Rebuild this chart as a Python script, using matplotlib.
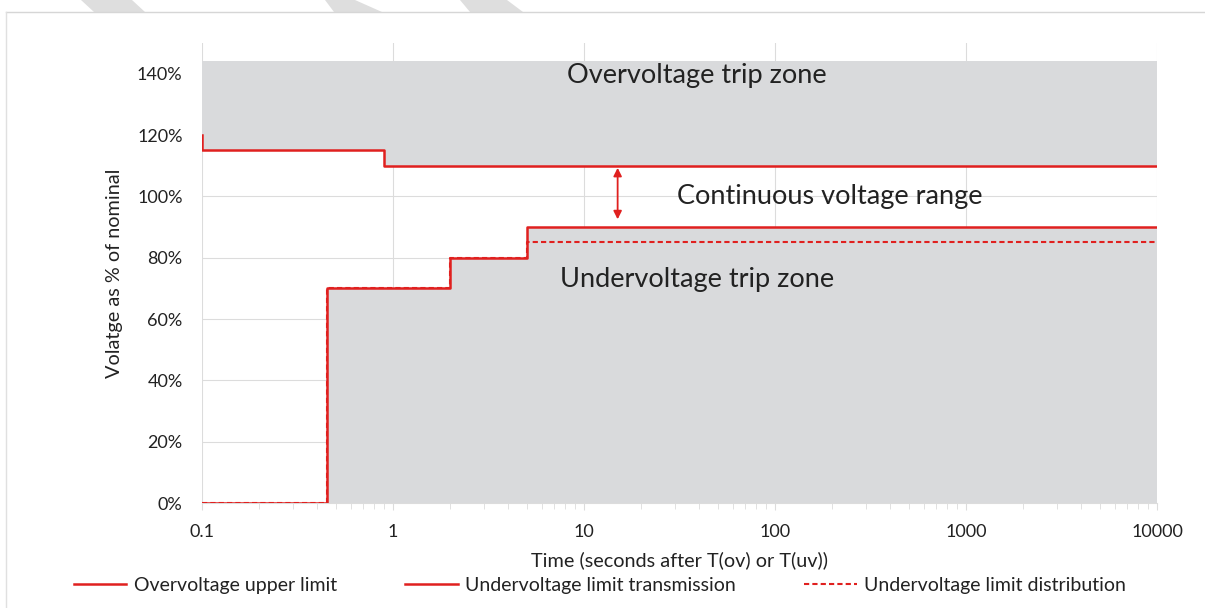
import matplotlib.pyplot as plt
from matplotlib.patches import Polygon
from matplotlib.lines import Line2D
from matplotlib.ticker import FixedLocator, LogLocator, NullFormatter

plt.rcParams['font.family'] = ['Lato', 'DejaVu Sans']

# data
ov_time = [0.1, 0.1, 0.9, 0.9, 10000]
ov_limit = [120, 115, 115, 110, 110]
uv_time = [0.1, 0.45, 0.45, 2, 2, 5, 5, 10000]
uv_trans = [0, 0, 70, 70, 80, 80, 90, 90]
uv_dist = [0, 0, 70, 70, 80, 80, 85, 85]
zone_top = 144
x_ticks = [0.1, 1, 10, 100, 1000, 10000]
x_labels = ["0.1", "1", "10", "100", "1000", "10000"]
y_ticks = [0, 20, 40, 60, 80, 100, 120, 140]
y_labels = ["0%", "20%", "40%", "60%", "80%", "100%", "120%", "140%"]

red = "#e0201f"
zone = "#d9dadc"
txt = "#222222"
grid = "#dcdcdc"

fig = plt.figure(figsize=(12.05, 6.08), dpi=100)
W, H = 1205, 608

# page decoration: frame and grey stripes at the top
for pts in ([(81, 0), (132, 0), (145, 12), (94, 12)],
            [(325, 0), (355, 0), (382, 12), (334, 12)],
            [(460, 0), (507, 0), (523, 12), (470, 12)]):
    fig.patches.append(Polygon([(x / W, 1 - y / H) for x, y in pts],
                               closed=True, transform=fig.transFigure,
                               color="#dedede", lw=0))
fig.add_artist(Line2D([6 / W, 1], [1 - 12 / H, 1 - 12 / H], color="#d6d6d6", lw=1))
fig.add_artist(Line2D([6 / W, 6 / W], [0, 1 - 12 / H], color="#e0e0e0", lw=1))

ax = fig.add_axes([202 / W, 1 - 503 / H, 955 / W, 460 / H])
ax.set_xscale("log")
ax.set_xlim(0.1, 10000)
ax.set_ylim(0, 150)

# trip zones
ax.fill_between(ov_time, ov_limit, zone_top, color=zone, lw=0, zorder=1)
ax.fill_between(uv_time, 0, uv_trans, color=zone, lw=0, zorder=1)

ax.plot(ov_time, ov_limit, color=red, lw=1.8, zorder=3, label="Overvoltage upper limit")
ax.plot(uv_time, uv_trans, color=red, lw=1.8, zorder=3, label="Undervoltage limit transmission")
ax.plot(uv_time, uv_dist, color=red, lw=1.5, ls=(0, (2.5, 1.5)), zorder=4,
        label="Undervoltage limit distribution")

ax.annotate("", xy=(15, 109.3), xytext=(15, 92.5),
            arrowprops=dict(arrowstyle="<|-|>", color=red, lw=1.3,
                            mutation_scale=12, shrinkA=0, shrinkB=0))

ax.text(39, 139.5, "Overvoltage trip zone", fontsize=19.5, color=txt, ha="center", va="center")
ax.text(194, 100, "Continuous voltage range", fontsize=19.5, color=txt, ha="center", va="center")
ax.text(39, 73, "Undervoltage trip zone", fontsize=19.5, color=txt, ha="center", va="center")

# axes styling
ax.xaxis.set_major_locator(FixedLocator(x_ticks))
ax.set_xticklabels(x_labels)
ax.xaxis.set_minor_locator(LogLocator(base=10, subs=range(2, 10)))
ax.xaxis.set_minor_formatter(NullFormatter())
ax.set_yticks(y_ticks)
ax.set_yticklabels(y_labels)
for s in ["top", "right", "left"]:
    ax.spines[s].set_visible(False)
ax.spines["bottom"].set_color(grid)
ax.tick_params(axis="x", which="both", colors=grid, labelcolor=txt, labelsize=13,
               direction="out", pad=10)
ax.tick_params(axis="x", which="major", length=5)
ax.tick_params(axis="x", which="minor", length=4)
ax.tick_params(axis="y", length=0, labelsize=13, labelcolor=txt, pad=14)
ax.grid(True, which="major", color=grid, lw=0.8, zorder=0)
ax.set_axisbelow(True)

ax.set_xlabel("Time (seconds after T(ov) or T(uv))", fontsize=14.3, color=txt, labelpad=8)
ax.set_ylabel("Volatge as % of nominal", fontsize=14.3, color=txt, labelpad=10)

fig.legend(loc="center", bbox_to_anchor=(600 / W, 1 - 585 / H), ncol=3, frameon=False,
           fontsize=14, handlelength=2.7, columnspacing=3.5, handletextpad=0.4,
           labelcolor=txt)

fig.savefig("out.png", dpi=100)
